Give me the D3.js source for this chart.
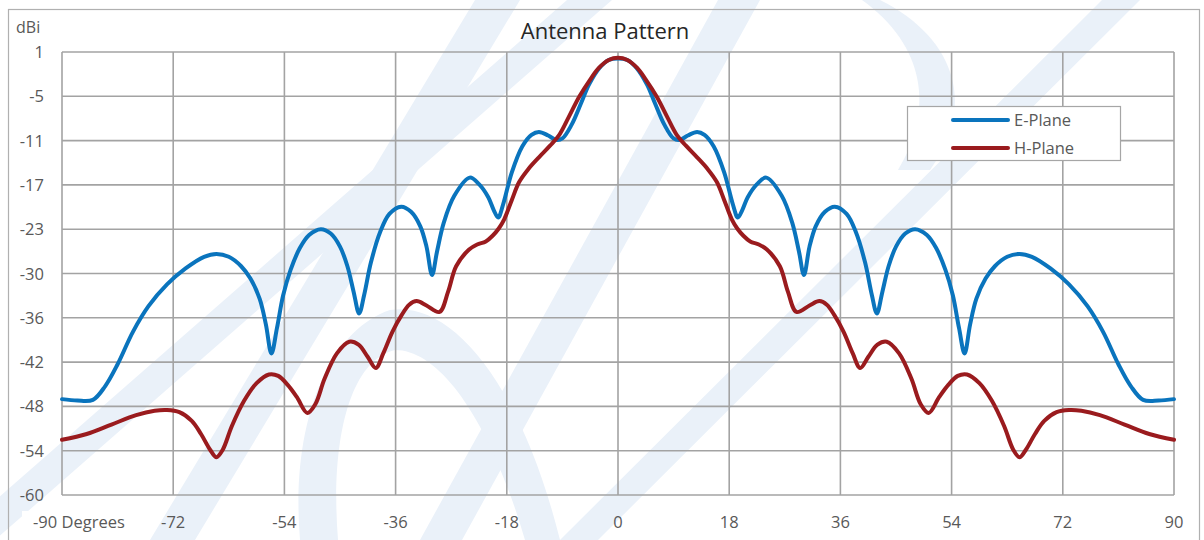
<!DOCTYPE html>
<html>
<head>
<meta charset="utf-8">
<script src="https://cdn.jsdelivr.net/npm/d3@7"></script>
<style>
    body { margin: 0; background: #fff; }
    svg { display: block; font-family: "Open Sans", "Noto Sans", sans-serif; }
</style>
</head>
<body>
<svg id="chart" width="1204" height="540"></svg>
<script>
// angles (degrees) and gain (dBi)
var eAngles = [-90, -87.5, -85, -83, -81, -78.5, -76, -73, -70, -67, -65, -63, -61, -59.5, -58, -57, -56.1,
    -55.2, -54.2, -53, -51.5, -50, -48.1, -46.5, -45, -43.8, -42.8, -41.9, -41.1, -40, -38.5, -37, -35.1,
    -33.5, -32, -31, -30.1, -29.3, -28.2, -26.5, -24, -22.5, -21, -20.1, -19.4, -18.6, -17.2, -15.5, -14,
    -12.8, -11.3, -10, -9, -7.5, -6, -4.7, -3, -1.5, 0,
    1.5, 3, 4.7, 6, 7.5, 9, 10, 11.3, 12.8, 14, 15.5, 17.2, 18.6, 19.4, 20.1, 21, 22.5, 24, 26.5, 28.2,
    29.3, 30.1, 31, 32, 33.5, 35.1, 37, 38.5, 40, 41.1, 41.9, 42.8, 43.8, 45, 46.5, 48.1, 50, 51.5, 53,
    54.2, 55.2, 56.1, 57, 58, 59.5, 61, 63, 65, 67, 70, 73, 76, 78.5, 81, 83, 85, 87.5, 90];
var eValues = [-46.8, -47.0, -46.9, -45.0, -42.0, -37.5, -34.0, -31.0, -28.8, -27.2, -26.8, -27.2, -28.5, -30.2, -33.0, -36.5, -40.5,
    -37.0, -32.5, -29.0, -26.0, -24.2, -23.4, -24.0, -25.8, -28.5, -32.0, -35.0, -32.5, -28.0, -23.8, -21.3, -20.3,
    -21.0, -23.0, -25.8, -29.7, -26.5, -22.5, -18.8, -16.3, -17.2, -19.0, -20.8, -21.8, -20.0, -15.6, -12.0, -10.4,
    -10.0, -10.5, -11.1, -10.9, -9.0, -6.1, -3.5, -1.2, -0.1, 0.1,
    -0.1, -1.2, -3.5, -6.1, -9.0, -10.9, -11.1, -10.5, -10.0, -10.4, -12.0, -15.6, -20.0, -21.8, -20.8, -19.0, -17.2, -16.3, -18.8, -22.5,
    -26.5, -29.7, -25.8, -23.0, -21.0, -20.3, -21.3, -23.8, -28.0, -32.5, -35.0, -32.0, -28.5, -25.8, -24.0, -23.4, -24.2, -26.0, -29.0,
    -32.5, -37.0, -40.5, -36.5, -33.0, -30.2, -28.5, -27.2, -26.8, -27.2, -28.8, -31.0, -34.0, -37.5, -42.0, -45.0, -46.9, -47.0, -46.8];

var hAngles = [-90, -86, -82, -78, -75, -73, -71, -69, -67.5, -66, -65, -64, -62.5, -60.5, -58.5, -56.5, -55,
    -53.5, -52, -50.3, -49, -47.5, -45.5, -43.5, -42, -40.5, -39.2, -38, -36.5, -35, -33.8, -32.6, -31, -28.9,
    -27.5, -26.2, -24.1, -22.8, -21.4, -20.3, -19.3, -18.4, -17.2, -16, -14.5, -12.8, -11, -9.5, -8, -6.3,
    -4.5, -3.1, -1.5, 0,
    1.5, 3.1, 4.5, 6.3, 8, 9.5, 11, 12.8, 14.5, 16, 17.2, 18.4, 19.3, 20.3, 21.4, 22.8, 24.1, 26.2, 27.5,
    28.9, 31, 32.6, 33.8, 35, 36.5, 38, 39.2, 40.5, 42, 43.5, 45.5, 47.5, 49, 50.3, 52, 53.5, 55, 56.5,
    58.5, 60.5, 62.5, 64, 65, 66, 67.5, 69, 71, 73, 75, 78, 82, 86, 90];
var hValues = [-52.4, -51.6, -50.3, -49.0, -48.4, -48.3, -48.6, -49.8, -51.6, -53.8, -54.8, -53.8, -50.5, -47.0, -44.6, -43.4, -43.6,
    -44.8, -46.5, -48.7, -47.5, -44.0, -40.5, -38.9, -39.3, -41.0, -42.5, -40.5, -37.5, -35.2, -33.8, -33.3, -33.9, -34.8,
    -32.0, -28.5, -26.2, -25.5, -25.1, -24.3, -23.3, -22.0, -19.4, -16.9, -15.1, -13.5, -11.9, -10.4, -8.0, -5.2,
    -2.8, -1.2, -0.1, 0.2,
    -0.1, -1.2, -2.8, -5.2, -8.0, -10.4, -11.9, -13.5, -15.1, -16.9, -19.4, -22.0, -23.3, -24.3, -25.1, -25.5, -26.2, -28.5, -32.0,
    -34.8, -33.9, -33.3, -33.8, -35.2, -37.5, -40.5, -42.5, -41.0, -39.3, -38.9, -40.5, -44.0, -47.5, -48.7, -46.5, -44.8, -43.6, -43.4,
    -44.6, -47.0, -50.5, -53.8, -54.8, -53.8, -51.6, -49.8, -48.6, -48.3, -48.4, -49.0, -50.3, -51.6, -52.4];

var seriesNames = ['E-Plane', 'H-Plane'];
var xTicks = [-90, -72, -54, -36, -18, 0, 18, 36, 54, 72, 90];
var xTickLabels = ['-90 Degrees', '-72', '-54', '-36', '-18', '0', '18', '36', '54', '72', '90'];
var yTicks = [1, -5.1, -11.2, -17.3, -23.4, -29.5, -35.6, -41.7, -47.8, -53.9, -60];
var yTickLabels = ['1', '-5', '-11', '-17', '-23', '-30', '-36', '-42', '-48', '-54', '-60'];

var colors = ['#0a74bd', '#9a1b1e'];
var gridColor = '#a3a3a3';
var textColor = '#595959';

var svg = d3.select('#chart');
// note: "top" is taken by window.top, so plot edges get their own names
var plotL = 62, plotR = 1174, plotT = 52, plotB = 495;

var x = d3.scaleLinear().domain([-90, 90]).range([plotL, plotR]);
var y = d3.scaleLinear().domain([-60, 1]).range([plotB, plotT]);

// faint watermark behind everything
var wm = svg.append('g').attr('fill', '#eaf1f9');
[
    [[-50, 540], [-5, 540], [612, 0], [567, 0]],
    [[150, 540], [195, 540], [520, 0], [475, 0]],
    [[560, 540], [598, 540], [1140, 0], [1102, 0]],
    [[420, 540], [462, 540], [760, 0], [718, 0]]
].forEach(function(pts) {
    wm.append('polygon').attr('points', pts.map(function(p) { return p.join(','); }).join(' '));
});
wm.append('path')
    .attr('d', 'M880,0 C960,40 975,110 930,170 L898,170 C935,110 925,45 862,0 Z');
wm.append('path')
    .attr('d', 'M300,540 C290,420 330,330 390,310 C450,300 520,380 560,540 L525,540 C490,420 440,350 395,350 C350,360 330,440 338,540 Z');

// outer frame
svg.append('rect')
    .attr('x', 8.5).attr('y', 9.5).attr('width', 1191).attr('height', 600)
    .attr('fill', 'none').attr('stroke', '#b0b0b0').attr('stroke-width', 1.2);

// grid
var grid = svg.append('g').attr('stroke', gridColor).attr('stroke-width', 1.6);
grid.selectAll('.gx').data(xTicks).enter().append('line')
    .attr('x1', function(d) { return x(d); }).attr('x2', function(d) { return x(d); })
    .attr('y1', plotT).attr('y2', plotB);
grid.selectAll('.gy').data(yTicks).enter().append('line')
    .attr('x1', plotL).attr('x2', plotR)
    .attr('y1', function(d) { return y(d); }).attr('y2', function(d) { return y(d); });

// y axis labels
svg.append('g').selectAll('text').data(yTicks).enter().append('text')
    .attr('x', 44).attr('y', function(d) { return y(d) + 6; })
    .attr('text-anchor', 'end').attr('font-size', 16.5).attr('fill', textColor)
    .text(function(d, i) { return yTickLabels[i]; });

svg.append('text').attr('x', 16).attr('y', 33).attr('font-size', 16)
    .attr('fill', textColor).text('dBi');

// x axis labels
svg.append('rect').attr('x', 22).attr('y', 511).attr('width', 115).attr('height', 26).attr('fill', '#fff');
svg.append('g').selectAll('text').data(xTicks).enter().append('text')
    .attr('x', function(d, i) { return i === 0 ? 33 : x(d); })
    .attr('y', 528)
    .attr('text-anchor', function(d, i) { return i === 0 ? 'start' : 'middle'; })
    .attr('font-size', 16.5).attr('fill', textColor)
    .text(function(d, i) { return xTickLabels[i]; });

// title
svg.append('text').attr('x', 605).attr('y', 39).attr('text-anchor', 'middle')
    .attr('font-size', 22).attr('fill', '#262626').text('Antenna Pattern');

// series
var line = d3.line()
    .x(function(d) { return x(d[0]); })
    .y(function(d) { return y(d[1]); })
    .curve(d3.curveCatmullRom.alpha(0.5));

var series = [d3.zip(eAngles, eValues), d3.zip(hAngles, hValues)];
series.forEach(function(s, i) {
    svg.append('path').datum(s)
        .attr('d', line)
        .attr('fill', 'none')
        .attr('stroke', colors[i])
        .attr('stroke-width', 4)
        .attr('stroke-linejoin', 'round')
        .attr('stroke-linecap', 'round');
});

// legend
var lg = svg.append('g');
lg.append('rect').attr('x', 907.5).attr('y', 106.5).attr('width', 213).attr('height', 54)
    .attr('fill', '#fff').attr('stroke', '#a6a6a6').attr('stroke-width', 1.2);
seriesNames.forEach(function(name, i) {
    var ly = 120 + i * 28;
    lg.append('line').attr('x1', 953).attr('x2', 1008).attr('y1', ly).attr('y2', ly)
        .attr('stroke', colors[i]).attr('stroke-width', 4).attr('stroke-linecap', 'round');
    lg.append('text').attr('x', 1014).attr('y', ly + 6).attr('font-size', 16.5)
        .attr('fill', textColor).text(name);
});
</script>
</body>
</html>
